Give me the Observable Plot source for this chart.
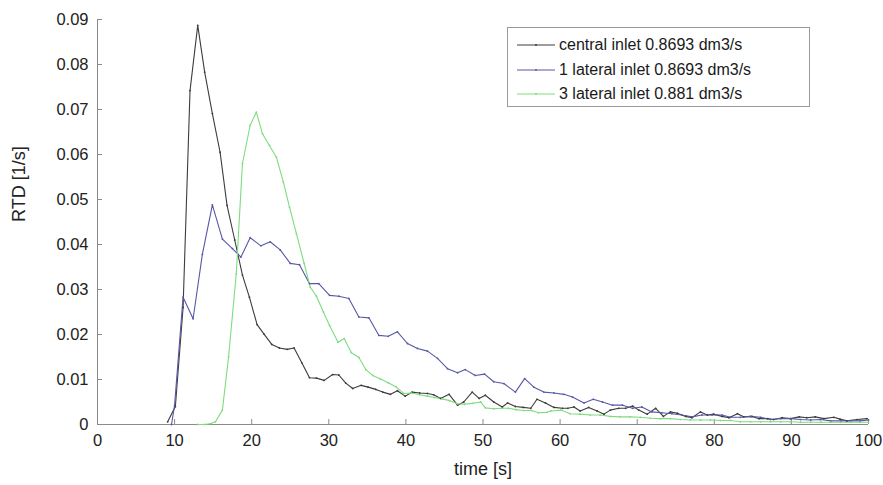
<!DOCTYPE html>
<html>
<head>
<meta charset="utf-8">
<script src="https://cdn.jsdelivr.net/npm/d3@7"></script>
<script src="https://cdn.jsdelivr.net/npm/@observablehq/plot@0.6"></script>
<style>
  html, body { margin: 0; padding: 0; background: #fff; }
  #wrap { position: relative; width: 883px; height: 485px; font-family: "Liberation Sans", Arial, sans-serif; }
  #legend { position: absolute; left: 507px; top: 27px; width: 303px; height: 80px; box-sizing: border-box;
            border: 1px solid #9a9a9a; background: #fff; padding: 5px 0 0 9px; }
  .row { display: flex; align-items: center; height: 24.5px; font-size: 16px; color: #1a1a1a; }
  .row svg { margin-right: 4px; }
</style>
</head>
<body>
<div id="wrap"></div>
<script>
// ---- data ----
const seriesNames = ["central inlet 0.8693 dm3/s", "1 lateral inlet 0.8693 dm3/s", "3 lateral inlet 0.881 dm3/s"];
const seriesColors = ["#3c3c3c", "#5757a6", "#7edc7e"];

const central = [[9.1,0.0006],[10.1,0.004],[11.1,0.026],[12.0,0.0742],[13.0,0.0887],[13.9,0.0783],[14.9,0.0691],[15.9,0.0605],[16.8,0.0487],[17.8,0.041],[18.8,0.0332],[19.7,0.0283],[20.7,0.0222],[21.6,0.0201],[22.6,0.0178],[23.6,0.017],[24.6,0.0167],[25.5,0.017],[26.5,0.0137],[27.5,0.0104],[28.4,0.0103],[29.4,0.0098],[30.5,0.0111],[31.3,0.011],[32.2,0.0092],[33.1,0.008],[34.2,0.0087],[35.1,0.0083],[36.1,0.0078],[37.0,0.0072],[38.0,0.0067],[38.9,0.0075],[39.9,0.0063],[40.8,0.0072],[41.8,0.007],[42.8,0.0069],[43.6,0.0066],[44.5,0.0058],[45.6,0.0067],[46.7,0.0043],[47.5,0.005],[48.6,0.0072],[49.5,0.0058],[50.3,0.0065],[51.4,0.005],[52.5,0.0039],[53.2,0.0048],[54.2,0.004],[55.2,0.0038],[56.2,0.0036],[57.0,0.0056],[58.1,0.0048],[59.2,0.0038],[60.3,0.0036],[61.0,0.0036],[61.8,0.0039],[62.6,0.003],[63.7,0.0038],[64.8,0.003],[65.7,0.0023],[66.5,0.0032],[67.6,0.0036],[68.5,0.0036],[69.4,0.0041],[70.2,0.0032],[71.3,0.0023],[72.4,0.0036],[73.4,0.0018],[74.3,0.0028],[75.2,0.0025],[76.3,0.0018],[77.1,0.0015],[78.2,0.0028],[79.1,0.0021],[79.9,0.0023],[81.0,0.0018],[81.9,0.0015],[83.0,0.0024],[83.8,0.0017],[84.9,0.0018],[85.8,0.0013],[86.9,0.0013],[87.7,0.0011],[88.8,0.0015],[89.9,0.0013],[91.0,0.0017],[92.0,0.0015],[93.1,0.0017],[94.2,0.0013],[95.5,0.0016],[96.3,0.0012],[97.2,0.0008],[98.5,0.0011],[99.8,0.0013]];

const lateral1 = [[9.6,0],[10.0,0.0043],[11.1,0.0283],[12.4,0.0235],[13.6,0.0378],[14.9,0.0488],[16.2,0.0412],[17.5,0.0391],[18.6,0.0372],[19.8,0.0415],[21.2,0.0397],[22.4,0.0406],[23.7,0.0388],[25.0,0.0358],[26.2,0.0355],[27.5,0.0313],[28.7,0.0313],[30.1,0.0287],[31.3,0.0285],[32.6,0.028],[33.9,0.0239],[35.2,0.0237],[36.5,0.0198],[37.7,0.0196],[38.9,0.0206],[40.2,0.018],[41.5,0.0169],[42.8,0.0163],[44.1,0.0147],[45.4,0.0124],[46.7,0.0115],[47.7,0.0122],[49.0,0.0109],[50.2,0.0112],[51.4,0.0095],[52.7,0.0091],[54.2,0.0072],[55.4,0.0102],[56.6,0.0083],[57.9,0.0072],[59.2,0.007],[60.5,0.0067],[61.6,0.0061],[63.1,0.0048],[64.3,0.0056],[65.5,0.005],[66.8,0.0043],[68.1,0.0043],[69.4,0.0036],[70.6,0.0039],[71.9,0.0028],[73.2,0.0026],[74.5,0.0024],[75.8,0.0021],[77.1,0.0017],[78.4,0.0021],[79.7,0.0021],[81.0,0.0021],[82.1,0.0016],[83.4,0.0016],[84.7,0.0018],[86.0,0.0016],[87.3,0.0011],[88.6,0.0013],[89.9,0.0013],[91.2,0.0011],[92.5,0.001],[93.8,0.0011],[95.1,0.0008],[96.4,0.0008],[97.7,0.0008],[98.9,0.0008],[100,0.001]];

const lateral3 = [[13.0,0],[13.9,0],[14.7,0.0002],[15.3,0.0006],[16.2,0.0032],[17.0,0.015],[18.0,0.0335],[18.8,0.058],[19.8,0.0665],[20.6,0.0694],[21.4,0.0646],[22.3,0.062],[23.2,0.0594],[24.1,0.0539],[24.9,0.0483],[25.8,0.0424],[26.8,0.0358],[27.6,0.0305],[28.4,0.0285],[29.3,0.025],[30.1,0.022],[31.2,0.0183],[32.0,0.0191],[32.9,0.016],[33.9,0.0149],[34.8,0.0122],[35.7,0.0109],[36.7,0.0101],[37.7,0.0093],[38.7,0.0084],[39.7,0.0069],[40.7,0.007],[41.8,0.0066],[42.8,0.0063],[43.7,0.006],[44.7,0.0057],[45.7,0.0053],[46.7,0.0046],[47.6,0.0045],[48.6,0.0047],[49.7,0.005],[50.3,0.0037],[51.4,0.0035],[52.4,0.0036],[53.3,0.0036],[54.3,0.0033],[55.3,0.0031],[56.3,0.0031],[57.2,0.0026],[58.3,0.0027],[58.8,0.003],[60.1,0.0032],[61.3,0.0024],[62.6,0.0023],[63.9,0.0021],[65.2,0.0021],[66.5,0.0018],[67.8,0.0017],[69.1,0.0017],[70.4,0.0016],[71.7,0.0014],[73.0,0.0013],[74.3,0.0013],[75.6,0.0011],[76.9,0.001],[78.2,0.001],[79.5,0.001],[80.8,0.0009],[82.1,0.0009],[83.4,0.0006],[84.7,0.0006],[86.0,0.0006],[87.3,0.0006],[88.6,0.0006],[89.9,0.0006],[91.2,0.0005],[92.5,0.0005],[93.8,0.0005],[95.1,0.0005],[96.4,0.0005],[97.7,0.0005],[98.9,0.0005],[100,0.0005]];

const xTicks = [0,10,20,30,40,50,60,70,80,90,100];
const yTicks = [0,0.01,0.02,0.03,0.04,0.05,0.06,0.07,0.08,0.09];
const xLabel = "time [s]";
const yLabel = "RTD [1/s]";

// ---- build table ----
const allSeries = [central, lateral1, lateral3];
const rows = allSeries.flatMap((s, i) => s.map(([t, v]) => ({t, v, name: seriesNames[i]})));

const axisColor = "#8a8a8a";
const textColor = "#222";
const yFmt = d => d === 0 ? "0" : d3.format(".2f")(d);

const chart = Plot.plot({
  width: 883,
  height: 485,
  marginLeft: 97,
  marginRight: 15,
  marginTop: 19,
  marginBottom: 61,
  style: {fontFamily: "Liberation Sans, Arial, sans-serif", fontSize: "16.5px", color: textColor, background: "#fff"},
  x: {domain: [0, 100]},
  y: {domain: [0, 0.09]},
  color: {domain: seriesNames, range: seriesColors},
  marks: [
    // axis lines
    Plot.ruleY([0], {stroke: axisColor}),
    Plot.ruleX([0], {stroke: axisColor}),
    // inward ticks
    Plot.axisX({ticks: xTicks, tickSize: -5, stroke: axisColor, tickFormat: () => "", label: null}),
    Plot.axisY({ticks: yTicks, tickSize: -5, stroke: axisColor, tickFormat: () => "", label: null}),
    // tick labels
    Plot.axisX({ticks: xTicks, tickSize: 0, tickPadding: 10, tickFormat: d => String(d), label: null, fill: textColor}),
    Plot.axisY({ticks: yTicks, tickSize: 0, tickPadding: 9, tickFormat: yFmt, label: null, fill: textColor}),
    // curves
    Plot.line(rows, {x: "t", y: "v", z: "name", stroke: "name", strokeWidth: 1.1}),
    Plot.dot(rows, {x: "t", y: "v", fill: "name", r: 0.9, stroke: null}),
    // axis titles
    Plot.text([xLabel], {frameAnchor: "bottom", dy: 50, fontSize: 18, fill: textColor}),
    Plot.text([yLabel], {frameAnchor: "left", dx: -78, rotate: -90, fontSize: 18, fill: textColor})
  ]
});

const wrap = document.getElementById("wrap");
wrap.appendChild(chart);

// legend
const legend = document.createElement("div");
legend.id = "legend";
seriesNames.forEach((name, i) => {
  const row = document.createElement("div");
  row.className = "row";
  row.innerHTML = `<svg width="38" height="6"><line x1="0" y1="3" x2="38" y2="3" stroke="${seriesColors[i]}" stroke-width="1.1"/><circle cx="19" cy="3" r="1" fill="${seriesColors[i]}"/></svg><span></span>`;
  row.querySelector("span").textContent = name;
  legend.appendChild(row);
});
wrap.appendChild(legend);
</script>
</body>
</html>
